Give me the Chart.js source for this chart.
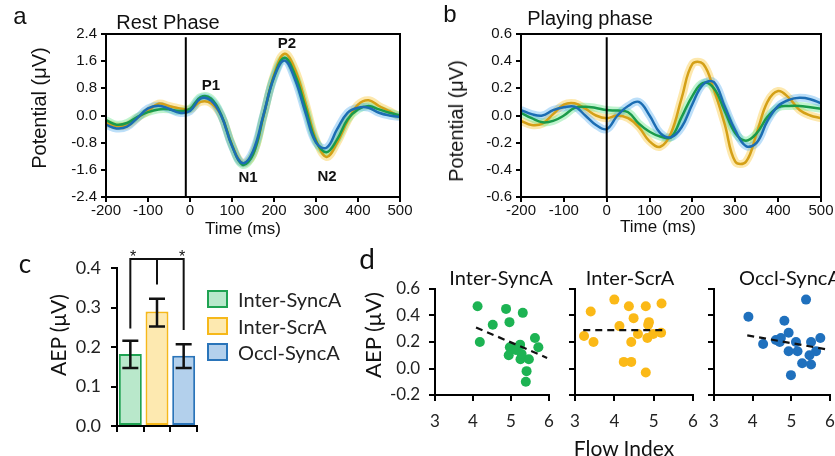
<!DOCTYPE html>
<html>
<head>
<meta charset="utf-8">
<script src="https://cdn.jsdelivr.net/npm/chart.js@4.4.1/dist/chart.umd.min.js"></script>
<style>
  body { margin: 0; background: #fff; }
  #wrap { position: relative; width: 835px; height: 456px; overflow: hidden; background: #fff; }
  canvas { position: absolute; }
  .t { position: absolute; white-space: nowrap; line-height: 1; color: #111; transform: translate(-50%, -50%); }
  .arial { font-family: 'Liberation Sans', Arial, sans-serif; }
  .lato { font-family: Lato, 'Open Sans', sans-serif; }
  .rot { transform: translate(-50%, -50%) rotate(-90deg); }
  .peak { font-family: 'Liberation Sans', Arial, sans-serif; font-weight: bold; font-size: 15px; }
  .lgbox { position: absolute; width: 17px; height: 14px; border: 2px solid; }
  .lgtxt { position: absolute; white-space: nowrap; line-height: 1; font-family: Lato, sans-serif; font-size: 20px; color: #222; transform: translateY(-50%); }
</style>
</head>
<body>
<div id="wrap">
  <canvas id="chartRest" width="415" height="240" style="left:0;top:0"></canvas>
  <canvas id="chartPlay" width="420" height="240" style="left:415px;top:0"></canvas>
  <canvas id="chartAep" width="330" height="216" style="left:0;top:240px"></canvas>
  <canvas id="chartSync" width="200" height="216" style="left:355px;top:240px"></canvas>
  <canvas id="chartScr" width="140" height="216" style="left:560px;top:240px"></canvas>
  <canvas id="chartOccl" width="135" height="216" style="left:700px;top:240px"></canvas>

  <div class="t arial" style="left:20px;top:16px;font-size:24px">a</div>
  <div class="t arial" style="left:168px;top:22px;font-size:20px">Rest Phase</div>
  <div class="t arial rot" style="left:39px;top:108px;font-size:20px">Potential (μV)</div>
  <div class="t arial" style="left:243px;top:228px;font-size:17px">Time (ms)</div>
  <div class="t peak" style="left:211px;top:84px">P1</div>
  <div class="t peak" style="left:248px;top:176px">N1</div>
  <div class="t peak" style="left:287px;top:42px">P2</div>
  <div class="t peak" style="left:327px;top:175px">N2</div>

  <div class="t arial" style="left:450px;top:14px;font-size:24px">b</div>
  <div class="t arial" style="left:590px;top:18px;font-size:20px">Playing phase</div>
  <div class="t arial rot" style="left:456px;top:121px;font-size:20px">Potential (μV)</div>
  <div class="t arial" style="left:658px;top:226px;font-size:17px">Time (ms)</div>

  <div class="t lato" style="left:25px;top:263px;font-size:26px">c</div>
  <div class="t lato rot" style="left:57px;top:335px;font-size:21px">AEP (μV)</div>
  <div class="t arial" style="left:133px;top:257px;font-size:16px">*</div>
  <div class="t arial" style="left:182px;top:257px;font-size:16px">*</div>
  <div class="lgbox" style="left:207px;top:290px;background:#b9e8cb;border-color:#1fa352"></div>
  <div class="lgtxt" style="left:238px;top:299px">Inter-SyncA</div>
  <div class="lgbox" style="left:207px;top:317px;background:#fde9b0;border-color:#f6b81a"></div>
  <div class="lgtxt" style="left:238px;top:326px">Inter-ScrA</div>
  <div class="lgbox" style="left:207px;top:343px;background:#b3d0ec;border-color:#2a74b9"></div>
  <div class="lgtxt" style="left:238px;top:352px">Occl-SyncA</div>

  <div class="t lato" style="left:367px;top:258px;font-size:28px">d</div>
  <div class="t lato rot" style="left:373px;top:335px;font-size:22px">AEP (μV)</div>
  <div class="t lato" style="left:501px;top:277px;font-size:20px">Inter-SyncA</div>
  <div class="t lato" style="left:630px;top:277px;font-size:20px">Inter-ScrA</div>
  <div class="t lato" style="left:790px;top:277px;font-size:20px">Occl-SyncA</div>
  <div class="t lato" style="left:624px;top:447px;font-size:21px">Flow Index</div>
</div>

<script>
'use strict';

// ---- a / b : averaged AEP waveforms (25 ms grid) ----
const TIME_MS    = [-200,-175,-150,-125,-100,-75,-50,-25,0,25,50,75,100,125,150,175,200,225,250,275,300,325,350,375,400,425,450,475,500];
const TIME_TICKS = [-200,-100,0,100,200,300,400,500];

const REST_SYNC = [-0.14,-0.27,-0.22,-0.04,0.10,0.18,0.18,0.13,0.20,0.54,0.50,0.00,-0.88,-1.45,-1.15,0.00,1.15,1.70,1.20,0.23,-0.76,-1.08,-0.71,-0.12,0.18,0.28,0.18,0.08,0.00];
const REST_SCR  = [-0.22,-0.31,-0.29,-0.07,0.13,0.35,0.28,0.21,0.18,0.40,0.36,-0.02,-0.86,-1.40,-1.15,-0.02,1.20,1.82,1.36,0.37,-0.71,-1.22,-0.81,-0.17,0.32,0.45,0.28,0.13,-0.04];
const REST_OCCL = [-0.27,-0.38,-0.33,-0.07,0.21,0.29,0.20,0.08,0.13,0.50,0.44,-0.02,-0.90,-1.40,-1.05,0.02,1.12,1.62,1.06,0.08,-0.80,-0.95,-0.41,0.08,0.23,0.23,0.08,0.00,-0.04];
const REST_TICKS = [-2.4,-1.6,-0.8,0,0.8,1.6,2.4];
const REST_ONSET = -10;

const PLAY_SYNC = [0.02,-0.02,-0.05,-0.04,0.00,0.056,0.065,0.056,0.04,0.036,0.024,-0.06,-0.12,-0.155,-0.16,-0.01,0.145,0.24,0.20,0.036,-0.13,-0.185,-0.13,-0.01,0.06,0.07,0.07,0.06,0.05];
const PLAY_SCR  = [-0.04,-0.07,-0.06,0.01,0.08,0.09,0.05,0.00,-0.02,0.00,-0.02,-0.085,-0.19,-0.23,-0.13,0.13,0.38,0.38,0.19,-0.06,-0.34,-0.34,-0.13,0.10,0.18,0.13,0.04,0.00,-0.02];
const PLAY_OCCL = [0.04,0.01,0.00,0.04,0.06,0.065,0.00,-0.07,-0.10,0.00,0.07,0.10,0.00,-0.13,-0.16,-0.085,0.085,0.23,0.245,0.07,-0.11,-0.225,-0.20,-0.04,0.07,0.115,0.13,0.12,0.09];
const PLAY_TICKS = [-0.6,-0.4,-0.2,0,0.2,0.4,0.6];
const PLAY_ONSET = 0;

// ---- c : mean AEP per condition ----
const GROUPS    = ['Inter-SyncA','Inter-ScrA','Occl-SyncA'];
const AEP_MEAN  = [0.182,0.290,0.178];
const AEP_LO    = [0.147,0.252,0.147];
const AEP_HI    = [0.216,0.322,0.207];
const AEP_TICKS = [0,0.1,0.2,0.3,0.4];
const BRACKET_TOP  = 0.423;
const BRACKET_FEET = [0.247,0.358,0.243];

// ---- d : AEP vs flow index ----
const FLOW_SYNC = [4.12,4.18,4.52,4.87,4.96,5.31,4.97,4.94,5.24,5.13,5.63,5.72,5.25,5.47,5.41,5.39,5.28];
const AEP_SYNC  = [0.47,0.20,0.33,0.45,0.35,0.42,0.16,0.10,0.18,0.14,0.23,0.16,0.07,0.07,-0.02,-0.10,0.11];
const FLOW_SCR  = [3.23,3.40,3.47,4.00,4.13,4.37,4.49,4.43,4.60,4.80,4.88,4.84,4.99,5.20,5.19,4.24,4.43,4.80,4.86];
const AEP_SCR   = [0.245,0.43,0.20,0.52,0.32,0.47,0.38,0.20,0.26,0.47,0.35,0.23,0.26,0.49,0.27,0.05,0.05,-0.03,0.33];
const FLOW_OCCL = [3.89,4.27,4.73,4.93,4.82,5.12,4.93,5.16,5.38,5.51,5.75,5.64,5.47,5.28,5.51,4.99,4.60,4.70];
const AEP_OCCL  = [0.39,0.185,0.23,0.27,0.36,0.20,0.13,0.13,0.52,0.20,0.23,0.13,0.10,0.04,0.03,-0.05,0.215,0.20];
const FIT_SYNC_X = [4.08,5.95], FIT_SYNC_Y = [0.31,0.08];
const FIT_SCR_X  = [3.21,5.25], FIT_SCR_Y  = [0.29,0.29];
const FIT_OCCL_X = [3.86,6.00], FIT_OCCL_Y = [0.25,0.14];
const FLOW_TICKS = [3,4,5,6];
const AEP_D_TICKS = [-0.2,0,0.2,0.4,0.6];

// colores
const GREEN = '#1a9b4b', GREEN_HALO = 'rgba(90,225,130,0.38)', GREEN_DOT = '#1db353';
const GOLD  = '#d4a017', GOLD_HALO  = 'rgba(250,200,60,0.42)', GOLD_DOT  = '#fbb917';
const BLUE  = '#1c6db3', BLUE_HALO  = 'rgba(80,170,240,0.38)', BLUE_DOT  = '#1f70bd';

const ARIAL = "'Liberation Sans', Arial, sans-serif";
const LATO  = "Lato, 'Open Sans', sans-serif";

Chart.defaults.color = '#111';
Chart.defaults.animation = false;
Chart.defaults.plugins.legend.display = false;
Chart.defaults.plugins.tooltip.enabled = false;

const pts = (xs, ys) => xs.map((x, i) => ({ x: x, y: ys[i] }));
const fixTicks = arr => s => { s.ticks = arr.map(v => ({ value: v })); };

// marco completo alrededor del área (paneles a y b)
const boxPlugin = {
  id: 'box',
  afterDraw(chart) {
    const { ctx, chartArea: a } = chart;
    ctx.save();
    ctx.strokeStyle = '#000';
    ctx.lineWidth = 2;
    ctx.strokeRect(a.left, a.top, a.right - a.left, a.bottom - a.top);
    ctx.restore();
  }
};

function erpChart(id, sync, scr, occl, yTicks, onset) {
  const yMin = yTicks[0], yMax = yTicks[yTicks.length - 1];
  const line = (d, c, w) => ({ data: pts(TIME_MS, d), borderColor: c, borderWidth: w, pointRadius: 0, tension: 0.4, fill: false });
  new Chart(document.getElementById(id), {
    type: 'line',
    data: {
      datasets: [
        { data: [{ x: onset, y: yMax - (yMax - yMin) * 0.02 }, { x: onset, y: yMin }], borderColor: '#000', borderWidth: 2, pointRadius: 0 },
        line(occl, BLUE, 2.5),
        line(sync, GREEN, 2.5),
        line(scr, GOLD, 2.5),
        line(occl, BLUE_HALO, 8),
        line(sync, GREEN_HALO, 8),
        line(scr, GOLD_HALO, 8)
      ]
    },
    options: {
      responsive: false,
      layout: { padding: { left: 0, top: 34, right: id === 'chartRest' ? 15 : 14, bottom: 0 } },
      scales: {
        x: {
          type: 'linear', min: -200, max: 500,
          afterBuildTicks: fixTicks(TIME_TICKS),
          afterFit: s => { s.height = 43; s.paddingLeft = 0; s.paddingRight = 0; },
          grid: { drawOnChartArea: false, tickLength: 5, color: '#000', lineWidth: 2 },
          border: { color: '#000', width: 2 },
          ticks: { font: { family: ARIAL, size: 15 }, padding: 0, maxRotation: 0, autoSkip: false }
        },
        y: {
          min: yMin, max: yMax,
          afterBuildTicks: fixTicks(yTicks),
          afterFit: s => { s.width = 106; s.paddingTop = 0; s.paddingBottom = 0; },
          grid: { drawOnChartArea: false, tickLength: 5, color: '#000', lineWidth: 2 },
          border: { color: '#000', width: 2 },
          ticks: { font: { family: ARIAL, size: 15 }, padding: 4, callback: v => v.toFixed(1) }
        }
      }
    },
    plugins: [boxPlugin]
  });
}

erpChart('chartRest', REST_SYNC, REST_SCR, REST_OCCL, REST_TICKS, REST_ONSET);
erpChart('chartPlay', PLAY_SYNC, PLAY_SCR, PLAY_OCCL, PLAY_TICKS, PLAY_ONSET);

// ---- c ----
const errorBars = {
  id: 'errorBars',
  afterDatasetsDraw(chart) {
    const { ctx, scales: { x, y } } = chart;
    ctx.save();
    ctx.strokeStyle = '#111';
    ctx.lineWidth = 2.5;
    AEP_MEAN.forEach((m, i) => {
      const cx = x.getPixelForValue(i);
      const lo = y.getPixelForValue(AEP_LO[i]), hi = y.getPixelForValue(AEP_HI[i]);
      ctx.beginPath();
      ctx.moveTo(cx, lo); ctx.lineTo(cx, hi);
      ctx.moveTo(cx - 8, lo); ctx.lineTo(cx + 8, lo);
      ctx.moveTo(cx - 8, hi); ctx.lineTo(cx + 8, hi);
      ctx.stroke();
    });
    // corchete de significancia
    const top = y.getPixelForValue(BRACKET_TOP);
    ctx.lineWidth = 2;
    ctx.beginPath();
    BRACKET_FEET.forEach((f, i) => {
      const cx = x.getPixelForValue(i);
      ctx.moveTo(cx, y.getPixelForValue(f)); ctx.lineTo(cx, top);
    });
    ctx.moveTo(x.getPixelForValue(0) - 1, top);
    ctx.lineTo(x.getPixelForValue(2) + 1, top);
    ctx.stroke();
    ctx.restore();
  }
};

new Chart(document.getElementById('chartAep'), {
  type: 'bar',
  data: {
    labels: GROUPS,
    datasets: [{
      data: AEP_MEAN,
      backgroundColor: ['#b9e8cb', '#fde9b0', '#b3d0ec'],
      borderColor: ['#1fa352', '#f6b81a', '#2a74b9'],
      borderWidth: 2,
      borderSkipped: false,
      barPercentage: 0.86,
      categoryPercentage: 1
    }]
  },
  options: {
    responsive: false,
    layout: { padding: { left: 0, top: 28, right: 133, bottom: 0 } },
    scales: {
      x: {
        afterFit: s => { s.height = 30; s.paddingLeft = 0; s.paddingRight = 0; },
        grid: { offset: true, drawOnChartArea: false, tickLength: 6, color: '#000', lineWidth: 2 },
        border: { color: '#000', width: 2 },
        ticks: { callback: () => '' }
      },
      y: {
        min: 0, max: 0.4,
        afterBuildTicks: fixTicks(AEP_TICKS),
        afterFit: s => { s.width = 117; s.paddingTop = 0; s.paddingBottom = 0; },
        grid: { drawOnChartArea: false, tickLength: 6, color: '#000', lineWidth: 2 },
        border: { color: '#000', width: 2 },
        ticks: { font: { family: LATO, size: 18 }, color: '#222', padding: 10, callback: v => v.toFixed(1) }
      }
    }
  },
  plugins: [errorBars]
});

// ---- d ----
function flowChart(id, xs, ys, fitX, fitY, dot, yWidth, padRight, showY) {
  new Chart(document.getElementById(id), {
    type: 'scatter',
    data: {
      datasets: [
        { type: 'line', data: pts(fitX, fitY), borderColor: '#111', borderWidth: 2.2, borderDash: [7, 5], pointRadius: 0 },
        { data: pts(xs, ys), backgroundColor: dot, borderWidth: 0, pointRadius: 5 }
      ]
    },
    options: {
      responsive: false,
      layout: { padding: { left: 0, top: 49, right: padRight, bottom: 0 } },
      scales: {
        x: {
          type: 'linear', min: 3, max: 6,
          afterBuildTicks: fixTicks(FLOW_TICKS),
          afterFit: s => { s.height = 61; s.paddingLeft = 0; s.paddingRight = 0; },
          grid: { drawOnChartArea: false, tickLength: 6, color: '#000', lineWidth: 2 },
          border: { color: '#000', width: 2 },
          ticks: { font: { family: LATO, size: 17 }, color: '#222', padding: 10, maxRotation: 0, autoSkip: false }
        },
        y: {
          min: -0.2, max: 0.6,
          afterBuildTicks: fixTicks(AEP_D_TICKS),
          afterFit: s => { s.width = yWidth; s.paddingTop = 0; s.paddingBottom = 0; },
          grid: { drawOnChartArea: false, tickLength: 6, color: '#000', lineWidth: 2 },
          border: { color: '#000', width: 2 },
          ticks: { font: { family: LATO, size: 17 }, color: '#222', padding: 9, callback: v => showY ? v.toFixed(1) : '' }
        }
      }
    }
  });
}

flowChart('chartSync', FLOW_SYNC, AEP_SYNC, FIT_SYNC_X, FIT_SYNC_Y, GREEN_DOT, 80, 6, true);
flowChart('chartScr',  FLOW_SCR,  AEP_SCR,  FIT_SCR_X,  FIT_SCR_Y,  GOLD_DOT, 15, 7, false);
flowChart('chartOccl', FLOW_OCCL, AEP_OCCL, FIT_OCCL_X, FIT_OCCL_Y, BLUE_DOT, 14, 4, false);
</script>
</body>
</html>
